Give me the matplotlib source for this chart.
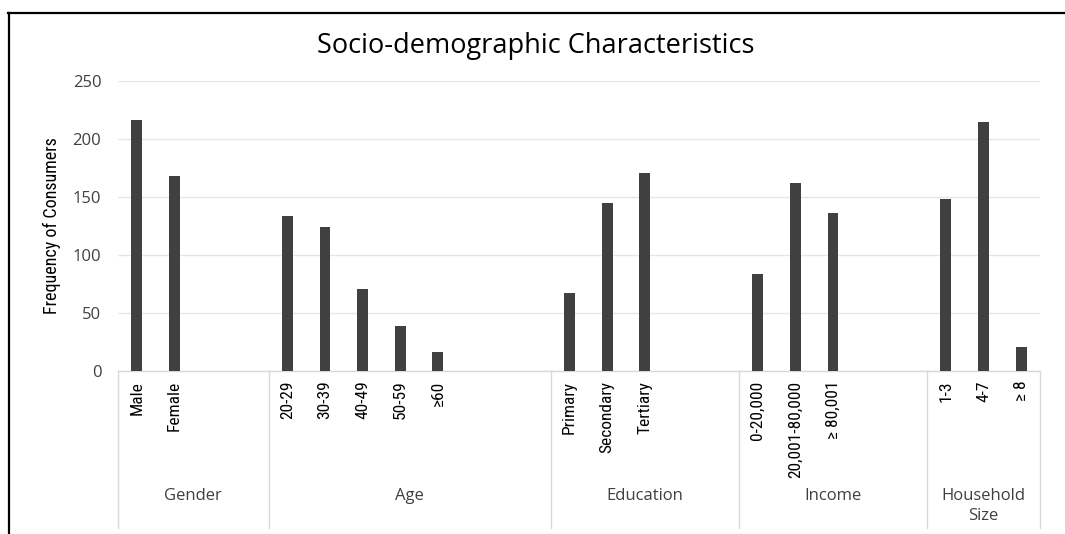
import matplotlib
matplotlib.use("Agg")
import matplotlib.pyplot as plt
from matplotlib.lines import Line2D
import matplotlib.transforms as mtransforms
from matplotlib import font_manager

# ---- data ----
groups = ["Gender", "Age", "Education", "Income", "Household\nSize"]
gender_labels = ["Male", "Female"]
gender_values = [216, 168]
age_labels = ["20-29", "30-39", "40-49", "50-59", "≥60"]
age_values = [134, 124, 71, 39, 16]
education_labels = ["Primary", "Secondary", "Tertiary"]
education_values = [67, 145, 171]
income_labels = ["0-20,000", "20,001-80,000", "≥ 80,001"]
income_values = [84, 162, 136]
household_labels = ["1-3", "4-7", "≥ 8"]
household_values = [148, 215, 21]

group_labels = [gender_labels, age_labels, education_labels, income_labels, household_labels]
group_values = [gender_values, age_values, education_values, income_values, household_values]
# slot widths of each group on the category axis (layout)
group_slots = [4, 7.5, 5, 5, 3]

installed = {f.name for f in font_manager.fontManager.ttflist}
if "Roboto Condensed" in installed:
    narrow = ["Roboto Condensed", "DejaVu Sans"]
    tick_size, ylab_size = 12.5, 13.0
elif "Liberation Sans Narrow" in installed:
    narrow = ["Liberation Sans Narrow", "DejaVu Sans"]
    tick_size, ylab_size = 12.0, 12.0
elif "DejaVu Sans Condensed" in installed:
    narrow = ["DejaVu Sans Condensed", "DejaVu Sans"]
    tick_size, ylab_size = 10.8, 11.0
else:
    narrow = ["DejaVu Sans"]
    tick_size, ylab_size = 9.5, 10.0
wide = ["Open Sans", "DejaVu Sans"]

W, H = 1065, 534
fig = plt.figure(figsize=(W / 100, H / 100), dpi=100)
fig.patch.set_facecolor("white")

ax_left, ax_right, ax_top, ax_bottom = 118, 1040, 81, 371
ax = fig.add_axes([ax_left / W, 1 - ax_bottom / H, (ax_right - ax_left) / W, (ax_bottom - ax_top) / H])

bar_color = "#404040"
positions, labels = [], []
boundaries = [0]
start = 0
for labs, vals, slots in zip(group_labels, group_values, group_slots):
    xs = [start + i + 0.5 for i in range(len(labs))]
    ax.bar(xs, vals, width=0.29, color=bar_color, zorder=3)
    positions += xs
    labels += labs
    start += slots
    boundaries.append(start)
total = start

ax.set_xlim(0, total)
ax.set_ylim(0, 250)
ax.set_yticks([0, 50, 100, 150, 200, 250])
ax.yaxis.grid(True, color="#e6e6e6", linewidth=1, zorder=0)
ax.set_axisbelow(True)
for s in ["top", "right", "left"]:
    ax.spines[s].set_visible(False)
ax.spines["bottom"].set_color("#d9d9d9")
ax.spines["bottom"].set_linewidth(1)

ax.set_xticks(positions)
ax.set_xticklabels(labels, rotation=90, fontfamily=narrow, fontsize=tick_size, color="black")
ax.tick_params(axis="x", length=0, pad=7)
ax.tick_params(axis="y", length=0, pad=12, labelsize=12, labelcolor="#404040")
for t in ax.get_yticklabels():
    t.set_fontfamily(wide)

ax.set_ylabel("Frequency of Consumers", fontfamily=narrow, fontsize=ylab_size, labelpad=8)

# group separators and group labels
trans = mtransforms.blended_transform_factory(ax.transData, ax.transAxes)
sep_bottom = -(528 - ax_bottom) / (ax_bottom - ax_top)
for b in boundaries:
    ax.add_line(Line2D([b, b], [0, sep_bottom], transform=trans, color="#d9d9d9",
                       linewidth=1, clip_on=False))
label_top = -(488 - ax_bottom) / (ax_bottom - ax_top)
for g, s0, s1 in zip(groups, boundaries[:-1], boundaries[1:]):
    ax.text((s0 + s1) / 2, label_top, g, transform=trans, ha="center", va="top",
            fontfamily=wide, fontsize=12, color="#404040", linespacing=1.35)

fig.text(536 / W, 1 - 46 / H, "Socio-demographic Characteristics", ha="center", va="center",
         fontfamily=wide, fontsize=19.5, color="black")

# outer frame
fig.add_artist(Line2D([8 / W, 1.0], [1 - 13 / H, 1 - 13 / H], transform=fig.transFigure,
                      color="black", linewidth=1.6))
fig.add_artist(Line2D([9 / W, 9 / W], [1 - 13 / H, 0], transform=fig.transFigure,
                      color="black", linewidth=1.6))

fig.savefig("out.png", dpi=100, facecolor="white")
